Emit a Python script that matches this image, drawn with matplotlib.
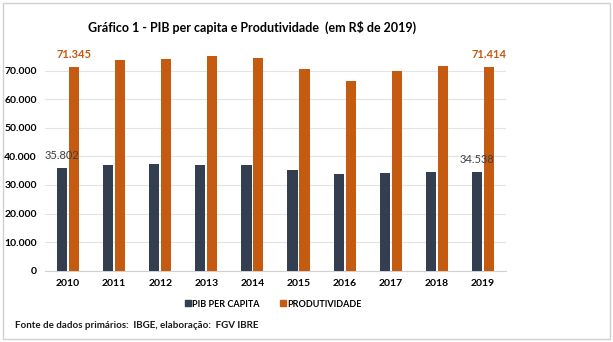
import matplotlib.pyplot as plt
import numpy as np
from matplotlib.patches import Rectangle
from matplotlib.lines import Line2D

plt.rcParams['font.family'] = ['Lato', 'DejaVu Sans']

anos = ["2010", "2011", "2012", "2013", "2014", "2015", "2016", "2017", "2018", "2019"]
pib_per_capita = [35802, 37000, 37300, 37000, 37000, 35200, 33800, 34200, 34500, 34538]
produtividade = [71345, 73700, 74100, 75200, 74400, 70600, 66400, 69900, 71600, 71414]

cor_pib = "#333f50"
cor_prod = "#c55a11"

fig = plt.figure(figsize=(6.13, 3.42), dpi=100)
ax = fig.add_axes([0.0734, 0.2085, 0.752, 0.652])

x = np.arange(len(anos))
w = 0.22
ax.bar(x - w / 2 - 0.02, pib_per_capita, width=w, color=cor_pib, zorder=3)
ax.bar(x + w / 2 + 0.02, produtividade, width=w, color=cor_prod, zorder=3)

# rotulos apenas no primeiro e ultimo ano
for i in (0, len(anos) - 1):
    ax.annotate(f"{pib_per_capita[i]:,}".replace(",", "."),
                (x[i] - w / 2 - 0.02, pib_per_capita[i]),
                xytext=(0, 5), textcoords="offset points",
                ha="center", va="bottom", fontsize=8, color="#404040")
    ax.annotate(f"{produtividade[i]:,}".replace(",", "."),
                (x[i] + w / 2 + 0.02, produtividade[i]),
                xytext=(0, 5), textcoords="offset points",
                ha="center", va="bottom", fontsize=8, color=cor_prod,
                fontweight="bold")

ax.set_xlim(-0.5, len(anos) - 0.5)
ax.set_ylim(0, 78000)
ticks = np.arange(0, 80000, 10000)
ax.set_yticks(ticks)
ax.set_yticklabels(["0" if t == 0 else f"{t:,}".replace(",", ".") for t in ticks])
ax.set_xticks(x)
ax.set_xticklabels(anos)
ax.tick_params(length=0, labelsize=7.5, colors="#000000", pad=6)
for lab in ax.get_xticklabels() + ax.get_yticklabels():
    lab.set_fontweight("bold")

ax.grid(axis="y", color="#e3e3e3", linewidth=0.8, zorder=0)
for s in ["left", "top", "right"]:
    ax.spines[s].set_visible(False)
ax.spines["bottom"].set_color("#d0d0d0")

fig.text(0.411, 0.921, "Gráfico 1 - PIB per capita e Produtividade  (em R$ de 2019)",
         ha="center", va="center", fontsize=9, fontweight="bold", color="#000000")

handles = [Line2D([], [], marker="s", linestyle="", color=cor_pib, markersize=5),
           Line2D([], [], marker="s", linestyle="", color=cor_prod, markersize=5)]
fig.legend(handles, ["PIB PER CAPITA", "PRODUTIVIDADE"], loc="center",
           bbox_to_anchor=(0.445, 0.111), ncol=2, frameon=False,
           prop={"size": 6.5, "weight": "bold"}, handletextpad=0.05,
           columnspacing=2.2, handlelength=0.8)

fig.text(0.025, 0.047, "Fonte de dados primários:  IBGE, elaboração:  FGV IBRE",
         ha="left", va="center", fontsize=7, fontweight="bold", color="#1a1a1a")

fig.patches.append(Rectangle((0.005, 0.009), 0.99, 0.982, transform=fig.transFigure,
                             fill=False, edgecolor="#d0d0d0", linewidth=1))

fig.savefig("out.png", dpi=100)
